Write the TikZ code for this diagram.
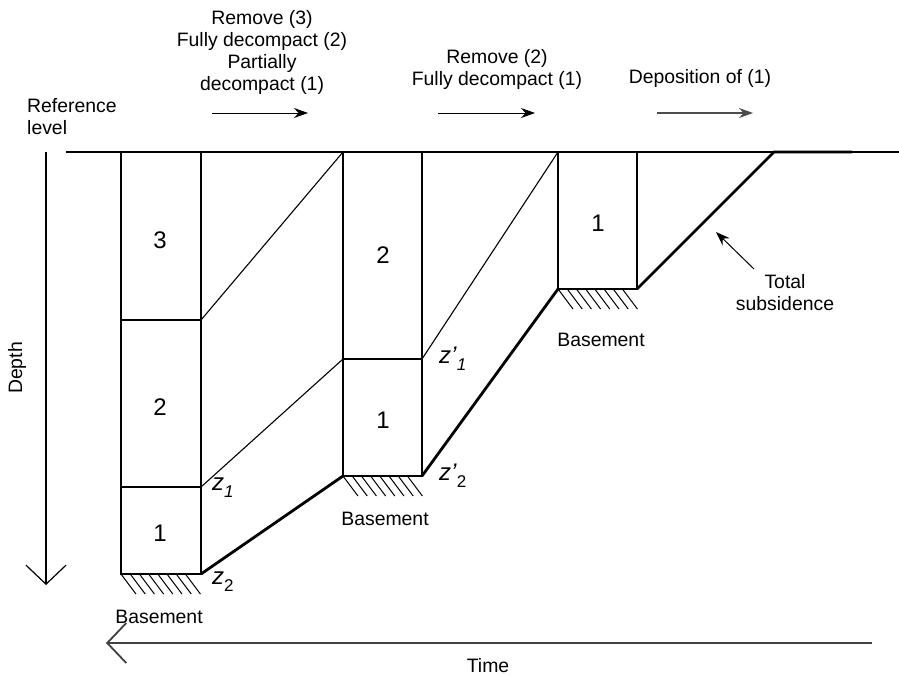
\documentclass[tikz,border=0pt]{standalone}
\usepackage{fontspec}
\setmainfont{Liberation Sans}
\usetikzlibrary{arrows.meta}
\begin{document}
\begin{tikzpicture}[x=1pt, y=-1pt, >={Stealth[length=14pt,width=10pt]},
  lbl/.style={inner sep=0pt, font=\fontsize{19.4}{22}\selectfont},
  big/.style={inner sep=0pt, font=\fontsize{24}{24}\selectfont},
  bed/.style={line width=1.1pt},
  subs/.style={line width=2.8pt, line join=round},
  barb/.style={line width=1.2pt, -{Straight Barb[length=19pt,width=40pt]}}]
\useasboundingbox (0,0) rectangle (899,675);
% reference level and axes
\draw[line width=1.2pt] (66,152) -- (899,152);
\node[lbl, align=left, anchor=north west] (ref) at (27,98) {Reference\\level};
\draw[barb] (46,152) -- (46,585);
\node[lbl, rotate=90] (depth) at (17,368) {Depth};
\draw[barb, line width=1.8pt, black!75] (872,643) -- (106,643);
\node[lbl, anchor=base] (time) at (488,672) {Time};
% steps
\node[lbl, align=center, anchor=north] (step1) at (262,10) {Remove (3)\\Fully decompact (2)\\Partially\\decompact (1)};
\node[lbl, align=center, anchor=north] (step2) at (497,49) {Remove (2)\\Fully decompact (1)};
\node[lbl, anchor=base] (step3) at (700,83) {Deposition of (1)};
\draw[->, line width=1pt] (212,113) -- (308,113);
\draw[->, line width=1pt] (438,113) -- (535,113);
\draw[->, line width=1.2pt, black!70] (657,113) -- (753,113);
% columns
\draw[bed] (121,152) rectangle (201,574);
\draw[bed] (121,320) -- (201,320) (121,487) -- (201,487);
\draw[bed] (343,152) rectangle (422,476);
\draw[bed] (343,359) -- (422,359);
\draw[bed] (558,152) rectangle (637,289);
\draw[line width=2.2pt] (121,574) -- (201,574) (343,476) -- (422,476) (558,289) -- (637,289);
\foreach \x/\y in {121/574, 343/476, 558/289}
  \foreach \i in {0,...,7}
    \draw[line width=1pt] (\x+\i*9.2,\y) -- ++(15,20);
\node[big] at (160,240) {3};
\node[big] at (160,407) {2};
\node[big] at (160,533) {1};
\node[big] at (383,255) {2};
\node[big] at (383,420) {1};
\node[big] at (598,223) {1};
\node[lbl, anchor=base] at (159,623) {Basement};
\node[lbl, anchor=base] at (385,525) {Basement};
\node[lbl, anchor=base] at (601,346) {Basement};
% layer tops
\draw[bed] (201,320) -- (343,152);
\draw[bed] (201,487) -- (343,359);
\draw[bed] (422,359) -- (558,152);
% total subsidence
\draw[subs] (201,574) -- (343,476);
\draw[subs] (422,476) -- (558,289);
\draw[subs] (637,289) -- (774,152) -- (852,152);
\node[big, anchor=base west] (z1) at (212,490) {\textit{z}\raisebox{-7pt}{\fontsize{17}{17}\selectfont\textit{1}}};
\node[big, anchor=base west] (z2) at (212,584) {\textit{z}\raisebox{-7pt}{\fontsize{17}{17}\selectfont 2}};
\node[big, anchor=base west] (z1p) at (439,363) {\textit{z’}\raisebox{-7pt}{\fontsize{17}{17}\selectfont\textit{1}}};
\node[big, anchor=base west] (z2p) at (439,480) {\textit{z’}\raisebox{-7pt}{\fontsize{17}{17}\selectfont 2}};
\node[lbl, align=center, anchor=north] (total) at (785,274) {Total\\subsidence};
\draw[->, line width=1pt] (754,269) -- (716,232);
\end{tikzpicture}
\end{document}
